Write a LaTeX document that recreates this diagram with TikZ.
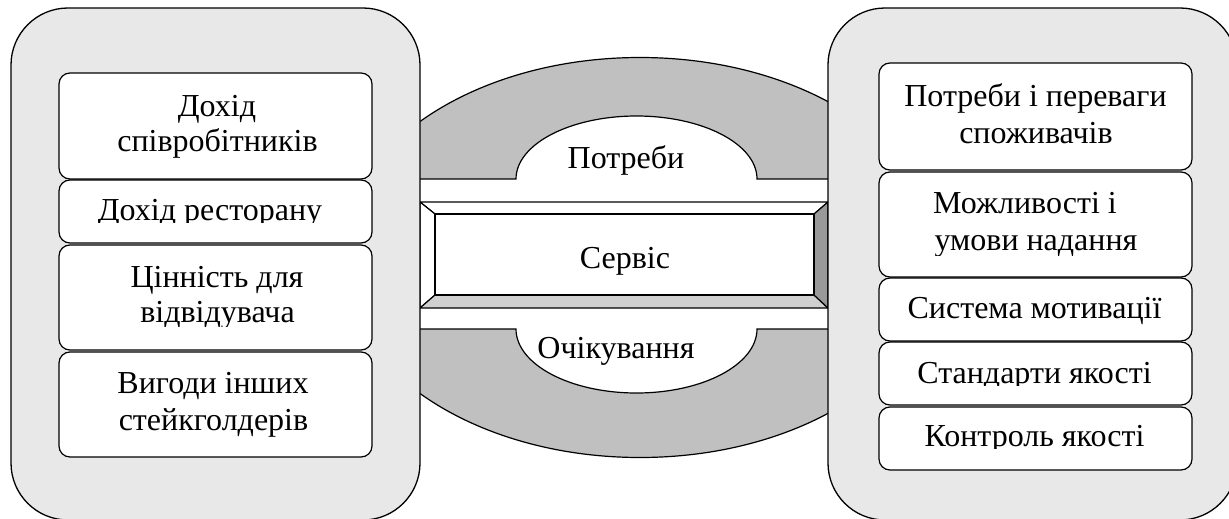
\documentclass[tikz,border=0pt]{standalone}
\usepackage{fontspec}
\setmainfont{Liberation Serif}
\definecolor{panelgray}{HTML}{E8E8E8}
\definecolor{ringgray}{HTML}{C0C0C0}
\definecolor{bevlow}{HTML}{D0D0D0}
\definecolor{bevright}{HTML}{999999}
\tikzset{
  panelbox/.style={draw=black, line width=1.3pt, fill=panelgray, rounded corners=57pt, rectangle, inner sep=0pt},
  itembox/.style={draw=black, line width=1.2pt, fill=white, rounded corners=11pt, rectangle, inner sep=0pt, minimum width=313pt},
  lbl/.style={anchor=base, inner sep=0pt, font=\fontsize{32}{36}\selectfont},
  edge/.style={draw=black, line width=1.2pt},
}
\begin{document}
\begin{tikzpicture}[x=1pt,y=-1pt]
\useasboundingbox (0,0) rectangle (1229,519);
\clip (0,0) rectangle (1229,519);
% ring
\coordinate (rc) at (640,257.5);
\filldraw[edge, fill=ringgray] (rc) ellipse [x radius=300pt, y radius=200pt];
\fill[white] (330,179) rectangle (950,329);
\fill[white] (516,179) arc[start angle=180, end angle=0, x radius=120.5pt, y radius=63pt] -- cycle;
\fill[white] (516,329) arc[start angle=180, end angle=360, x radius=120.5pt, y radius=64pt] -- cycle;
\draw[edge] (330,179) -- (516,179) arc[start angle=180, end angle=0, x radius=120.5pt, y radius=63pt] -- (950,179);
\draw[edge] (330,329) -- (516,329) arc[start angle=180, end angle=360, x radius=120.5pt, y radius=64pt] -- (950,329);
% bevel box
\filldraw[edge, fill=white] (420,202) -- (828,202) -- (814,214) -- (435,214) -- cycle;
\filldraw[edge, fill=white] (420,202) -- (435,214) -- (435,295) -- (420,308) -- cycle;
\filldraw[edge, fill=bevlow] (420,308) -- (435,295) -- (814,295) -- (828,308) -- cycle;
\filldraw[edge, fill=bevright] (828,202) -- (828,308) -- (814,295) -- (814,214) -- cycle;
\node[draw=black, line width=1.2pt, fill=white, rectangle, inner sep=0pt, minimum width=379pt, minimum height=81pt] (sv) at (624.5,254.5) {};
% panels
\node[panelbox, minimum width=409pt, minimum height=512pt] (lp) at (215.5,264) {};
\node[panelbox, minimum width=409pt, minimum height=512pt] (rp) at (1032.5,264) {};
% left items
\node[itembox, minimum height=106pt] (l1) at (215.5,126) {};
\node[itembox, minimum height=63pt] (l2) at (215.5,211.5) {};
\node[itembox, minimum height=105pt] (l3) at (215.5,297.5) {};
\node[itembox, minimum height=105pt] (l4) at (215.5,404.5) {};
% right items
\node[itembox, minimum height=107pt] (r1) at (1035.5,116.5) {};
\node[itembox, minimum height=105pt] (r2) at (1035.5,224.5) {};
\node[itembox, minimum height=63pt] (r3) at (1035.5,309.5) {};
\node[itembox, minimum height=63pt] (r4) at (1035.5,373.5) {};
\node[itembox, minimum height=63pt] (r5) at (1035.5,438.5) {};
% texts
\node[lbl] (tPotr) at (626,168.3) {Потреби};
\node[lbl] (tServ) at (625,268.3) {Сервіс};
\node[lbl] (tOch) at (616,358.3) {Очікування};
\node[lbl] (tl1a) at (217,116.7) {Дохід};
\node[lbl] (tl1b) at (217.5,151.7) {співробітників};
\begin{scope}
\clip (59,180) rectangle (372,222);
\node[lbl] (tl2) at (210,220) {Дохід ресторану};
\end{scope}
\node[lbl] (tl3a) at (217,287) {Цінність для};
\begin{scope}
\clip (59,300) rectangle (372,326.5);
\node[lbl] (tl3b) at (217.5,322) {відвідувача};
\end{scope}
\node[lbl] (tl4a) at (213,393) {Вигоди інших};
\node[lbl] (tl4b) at (213.5,430) {стейкголдерів};
\node[lbl] (tr1a) at (1035.5,106.7) {Потреби і переваги};
\node[lbl] (tr1b) at (1036,143.3) {споживачів};
\node[lbl] (tr2a) at (1025,213.3) {Можливості і};
\begin{scope}
\clip (879,220) rectangle (1192,255);
\node[lbl] (tr2b) at (1036,250) {умови надання};
\end{scope}
\node[lbl] (tr3) at (1034.5,318.3) {Система мотивації};
\begin{scope}
\clip (879,342) rectangle (1192,385);
\node[lbl] (tr4) at (1034.5,383.3) {Стандарти якості};
\end{scope}
\begin{scope}
\clip (879,407) rectangle (1192,448.5);
\node[lbl] (tr5) at (1034.5,446.7) {Контроль якості};
\end{scope}
\end{tikzpicture}
\end{document}
